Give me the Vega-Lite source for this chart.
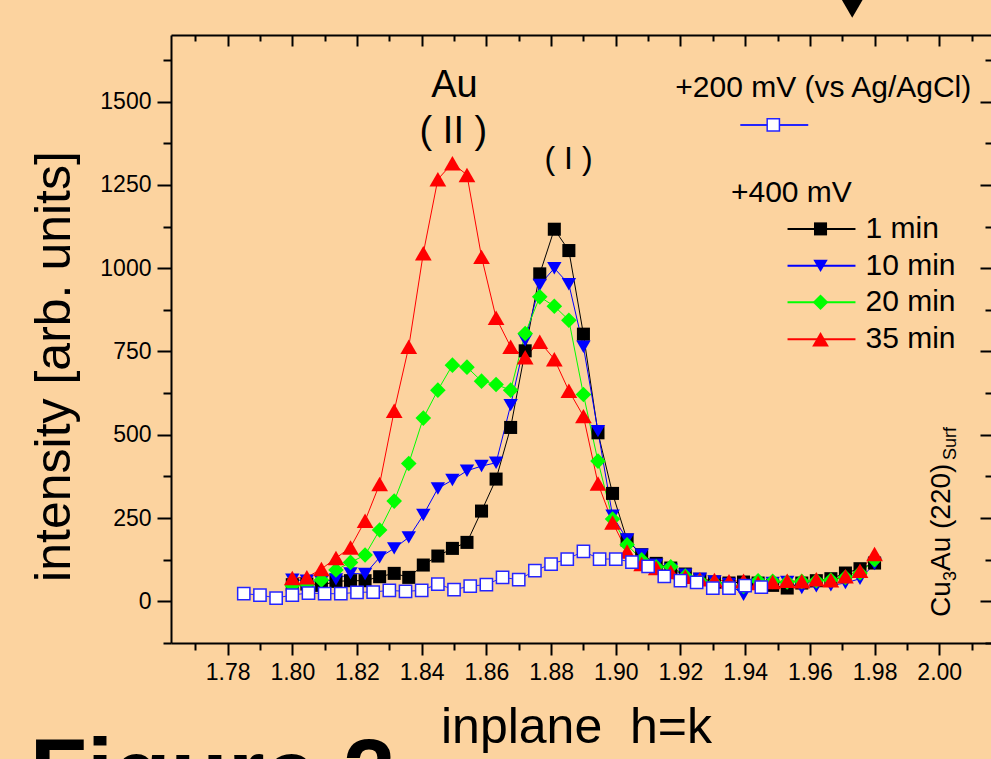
{
  "$schema": "https://vega.github.io/schema/vega-lite/v6.json",
  "width": 820,
  "height": 608,
  "autosize": {"type": "none"},
  "padding": {"left": 171, "top": 35, "right": 0, "bottom": 116},
  "background": "#fcd39f",
  "config": {"view": {"stroke": null}, "font": "Liberation Sans", "text": {"font": "Liberation Sans", "color": "black"}},
  "data": {"values": [{}]},
  "datasets": {
    "scans": [
      {"h":1.8,"intensity":50,"series":"1 min"},{"h":1.8045,"intensity":52,"series":"1 min"},{"h":1.809,"intensity":48,"series":"1 min"},{"h":1.8135,"intensity":60,"series":"1 min"},{"h":1.818,"intensity":62,"series":"1 min"},{"h":1.8225,"intensity":62,"series":"1 min"},{"h":1.827,"intensity":74,"series":"1 min"},{"h":1.8315,"intensity":84,"series":"1 min"},{"h":1.836,"intensity":72,"series":"1 min"},{"h":1.8405,"intensity":109,"series":"1 min"},{"h":1.845,"intensity":136,"series":"1 min"},{"h":1.8495,"intensity":159,"series":"1 min"},{"h":1.854,"intensity":177,"series":"1 min"},{"h":1.8585,"intensity":271,"series":"1 min"},{"h":1.863,"intensity":367,"series":"1 min"},{"h":1.8675,"intensity":522,"series":"1 min"},{"h":1.872,"intensity":752,"series":"1 min"},{"h":1.8765,"intensity":983,"series":"1 min"},{"h":1.881,"intensity":1117,"series":"1 min"},{"h":1.8855,"intensity":1053,"series":"1 min"},{"h":1.89,"intensity":802,"series":"1 min"},{"h":1.8945,"intensity":506,"series":"1 min"},{"h":1.899,"intensity":324,"series":"1 min"},{"h":1.9035,"intensity":184,"series":"1 min"},{"h":1.908,"intensity":140,"series":"1 min"},{"h":1.9125,"intensity":114,"series":"1 min"},{"h":1.917,"intensity":100,"series":"1 min"},{"h":1.9215,"intensity":82,"series":"1 min"},{"h":1.926,"intensity":66,"series":"1 min"},{"h":1.9305,"intensity":58,"series":"1 min"},{"h":1.935,"intensity":55,"series":"1 min"},{"h":1.9395,"intensity":58,"series":"1 min"},{"h":1.944,"intensity":55,"series":"1 min"},{"h":1.9485,"intensity":48,"series":"1 min"},{"h":1.953,"intensity":40,"series":"1 min"},{"h":1.9575,"intensity":55,"series":"1 min"},{"h":1.962,"intensity":62,"series":"1 min"},{"h":1.9665,"intensity":68,"series":"1 min"},{"h":1.971,"intensity":85,"series":"1 min"},{"h":1.9755,"intensity":98,"series":"1 min"},{"h":1.98,"intensity":115,"series":"1 min"},
      {"h":1.8,"intensity":65,"series":"10 min"},{"h":1.8045,"intensity":62,"series":"10 min"},{"h":1.809,"intensity":59,"series":"10 min"},{"h":1.8135,"intensity":66,"series":"10 min"},{"h":1.818,"intensity":84,"series":"10 min"},{"h":1.8225,"intensity":82,"series":"10 min"},{"h":1.827,"intensity":132,"series":"10 min"},{"h":1.8315,"intensity":159,"series":"10 min"},{"h":1.836,"intensity":192,"series":"10 min"},{"h":1.8405,"intensity":259,"series":"10 min"},{"h":1.845,"intensity":339,"series":"10 min"},{"h":1.8495,"intensity":364,"series":"10 min"},{"h":1.854,"intensity":392,"series":"10 min"},{"h":1.8585,"intensity":406,"series":"10 min"},{"h":1.863,"intensity":416,"series":"10 min"},{"h":1.8675,"intensity":589,"series":"10 min"},{"h":1.872,"intensity":784,"series":"10 min"},{"h":1.8765,"intensity":950,"series":"10 min"},{"h":1.881,"intensity":1000,"series":"10 min"},{"h":1.8855,"intensity":952,"series":"10 min"},{"h":1.89,"intensity":764,"series":"10 min"},{"h":1.8945,"intensity":511,"series":"10 min"},{"h":1.899,"intensity":257,"series":"10 min"},{"h":1.9035,"intensity":186,"series":"10 min"},{"h":1.908,"intensity":140,"series":"10 min"},{"h":1.9125,"intensity":110,"series":"10 min"},{"h":1.917,"intensity":95,"series":"10 min"},{"h":1.9215,"intensity":80,"series":"10 min"},{"h":1.926,"intensity":68,"series":"10 min"},{"h":1.9305,"intensity":60,"series":"10 min"},{"h":1.935,"intensity":52,"series":"10 min"},{"h":1.9395,"intensity":20,"series":"10 min"},{"h":1.944,"intensity":50,"series":"10 min"},{"h":1.9485,"intensity":55,"series":"10 min"},{"h":1.953,"intensity":58,"series":"10 min"},{"h":1.9575,"intensity":40,"series":"10 min"},{"h":1.962,"intensity":45,"series":"10 min"},{"h":1.9665,"intensity":48,"series":"10 min"},{"h":1.971,"intensity":55,"series":"10 min"},{"h":1.9755,"intensity":68,"series":"10 min"},{"h":1.98,"intensity":112,"series":"10 min"},
      {"h":1.8,"intensity":47,"series":"20 min"},{"h":1.8045,"intensity":51,"series":"20 min"},{"h":1.809,"intensity":64,"series":"20 min"},{"h":1.8135,"intensity":94,"series":"20 min"},{"h":1.818,"intensity":117,"series":"20 min"},{"h":1.8225,"intensity":139,"series":"20 min"},{"h":1.827,"intensity":214,"series":"20 min"},{"h":1.8315,"intensity":301,"series":"20 min"},{"h":1.836,"intensity":414,"series":"20 min"},{"h":1.8405,"intensity":550,"series":"20 min"},{"h":1.845,"intensity":634,"series":"20 min"},{"h":1.8495,"intensity":709,"series":"20 min"},{"h":1.854,"intensity":703,"series":"20 min"},{"h":1.8585,"intensity":661,"series":"20 min"},{"h":1.863,"intensity":651,"series":"20 min"},{"h":1.8675,"intensity":634,"series":"20 min"},{"h":1.872,"intensity":804,"series":"20 min"},{"h":1.8765,"intensity":914,"series":"20 min"},{"h":1.881,"intensity":886,"series":"20 min"},{"h":1.8855,"intensity":844,"series":"20 min"},{"h":1.89,"intensity":621,"series":"20 min"},{"h":1.8945,"intensity":421,"series":"20 min"},{"h":1.899,"intensity":247,"series":"20 min"},{"h":1.9035,"intensity":170,"series":"20 min"},{"h":1.908,"intensity":125,"series":"20 min"},{"h":1.9125,"intensity":104,"series":"20 min"},{"h":1.917,"intensity":104,"series":"20 min"},{"h":1.9215,"intensity":76,"series":"20 min"},{"h":1.926,"intensity":62,"series":"20 min"},{"h":1.9305,"intensity":55,"series":"20 min"},{"h":1.935,"intensity":50,"series":"20 min"},{"h":1.9395,"intensity":45,"series":"20 min"},{"h":1.944,"intensity":62,"series":"20 min"},{"h":1.9485,"intensity":60,"series":"20 min"},{"h":1.953,"intensity":58,"series":"20 min"},{"h":1.9575,"intensity":60,"series":"20 min"},{"h":1.962,"intensity":62,"series":"20 min"},{"h":1.9665,"intensity":64,"series":"20 min"},{"h":1.971,"intensity":72,"series":"20 min"},{"h":1.9755,"intensity":85,"series":"20 min"},{"h":1.98,"intensity":125,"series":"20 min"},
      {"h":1.8,"intensity":70,"series":"35 min"},{"h":1.8045,"intensity":72,"series":"35 min"},{"h":1.809,"intensity":97,"series":"35 min"},{"h":1.8135,"intensity":130,"series":"35 min"},{"h":1.818,"intensity":162,"series":"35 min"},{"h":1.8225,"intensity":242,"series":"35 min"},{"h":1.827,"intensity":352,"series":"35 min"},{"h":1.8315,"intensity":572,"series":"35 min"},{"h":1.836,"intensity":764,"series":"35 min"},{"h":1.8405,"intensity":1045,"series":"35 min"},{"h":1.845,"intensity":1267,"series":"35 min"},{"h":1.8495,"intensity":1315,"series":"35 min"},{"h":1.854,"intensity":1280,"series":"35 min"},{"h":1.8585,"intensity":1034,"series":"35 min"},{"h":1.863,"intensity":851,"series":"35 min"},{"h":1.8675,"intensity":764,"series":"35 min"},{"h":1.872,"intensity":733,"series":"35 min"},{"h":1.8765,"intensity":779,"series":"35 min"},{"h":1.881,"intensity":727,"series":"35 min"},{"h":1.8855,"intensity":632,"series":"35 min"},{"h":1.89,"intensity":556,"series":"35 min"},{"h":1.8945,"intensity":354,"series":"35 min"},{"h":1.899,"intensity":237,"series":"35 min"},{"h":1.9035,"intensity":150,"series":"35 min"},{"h":1.908,"intensity":112,"series":"35 min"},{"h":1.9125,"intensity":100,"series":"35 min"},{"h":1.917,"intensity":88,"series":"35 min"},{"h":1.9215,"intensity":74,"series":"35 min"},{"h":1.926,"intensity":66,"series":"35 min"},{"h":1.9305,"intensity":64,"series":"35 min"},{"h":1.935,"intensity":60,"series":"35 min"},{"h":1.9395,"intensity":62,"series":"35 min"},{"h":1.944,"intensity":55,"series":"35 min"},{"h":1.9485,"intensity":58,"series":"35 min"},{"h":1.953,"intensity":62,"series":"35 min"},{"h":1.9575,"intensity":60,"series":"35 min"},{"h":1.962,"intensity":66,"series":"35 min"},{"h":1.9665,"intensity":63,"series":"35 min"},{"h":1.971,"intensity":75,"series":"35 min"},{"h":1.9755,"intensity":92,"series":"35 min"},{"h":1.98,"intensity":142,"series":"35 min"}
    ],
    "ref": [
      {"h":1.785,"intensity":23},{"h":1.79,"intensity":19},{"h":1.795,"intensity":10},{"h":1.8,"intensity":19},{"h":1.805,"intensity":25},{"h":1.81,"intensity":23},{"h":1.815,"intensity":23},{"h":1.82,"intensity":27},{"h":1.825,"intensity":28},{"h":1.83,"intensity":33},{"h":1.835,"intensity":30},{"h":1.84,"intensity":33},{"h":1.845,"intensity":52},{"h":1.85,"intensity":35},{"h":1.855,"intensity":46},{"h":1.86,"intensity":50},{"h":1.865,"intensity":72},{"h":1.87,"intensity":65},{"h":1.875,"intensity":92},{"h":1.88,"intensity":112},{"h":1.885,"intensity":127},{"h":1.89,"intensity":150},{"h":1.895,"intensity":127},{"h":1.9,"intensity":127},{"h":1.905,"intensity":118},{"h":1.91,"intensity":105},{"h":1.915,"intensity":75},{"h":1.92,"intensity":62},{"h":1.925,"intensity":57},{"h":1.93,"intensity":40},{"h":1.935,"intensity":40},{"h":1.94,"intensity":47},{"h":1.945,"intensity":43}
    ],
    "legendRows": [
      {"series":"1 min","ly":1118},{"series":"10 min","ly":1007},{"series":"20 min","ly":898},{"series":"35 min","ly":787}
    ]
  },
  "resolve": {"axis": {"x": "independent", "y": "independent"}},
  "layer": [
    {
      "data": {"name": "scans"},
      "mark": {"type": "line", "strokeWidth": 1, "clip": true},
      "encoding": {
        "x": {"field": "h", "type": "quantitative",
          "scale": {"domain": [1.7625, 2.016], "nice": false, "zero": false},
          "axis": {"orient": "bottom", "values": [1.77,1.78,1.79,1.8,1.81,1.82,1.83,1.84,1.85,1.86,1.87,1.88,1.89,1.9,1.91,1.92,1.93,1.94,1.95,1.96,1.97,1.98,1.99,2,2.01],
            "labelExpr": "round(datum.value*100) % 2 == 0 ? format(datum.value, '.2f') : ''",
            "tickSize": {"condition": {"test": "round(datum.value*100) % 2 == 0", "value": 12}, "value": 7},
            "tickWidth": 2, "tickColor": "black", "domainColor": "black", "domainWidth": 2, "grid": false,
            "labelFontSize": 23, "labelColor": "black", "labelPadding": 6, "labelFlush": false, "labelOverlap": false,
            "title": "inplane\u00a0\u00a0h=k", "titleFontSize": 50, "titleFontWeight": "normal", "titleColor": "black", "titlePadding": 18, "titleX": 405}},
        "y": {"field": "intensity", "type": "quantitative",
          "scale": {"domain": [-125, 1700], "nice": false, "zero": false},
          "axis": {"orient": "left", "values": [-125,0,125,250,375,500,625,750,875,1000,1125,1250,1375,1500,1625],
            "labelExpr": "datum.value >= 0 && datum.value % 250 == 0 ? format(datum.value, 'd') : ''",
            "tickSize": {"condition": {"test": "datum.value % 250 == 0", "value": 14}, "value": 8},
            "tickWidth": 2, "tickColor": "black", "domainColor": "black", "domainWidth": 2, "grid": false,
            "labelFontSize": 23, "labelColor": "black", "labelPadding": 6, "labelFlush": false, "labelOverlap": false,
            "title": "intensity [arb. units]", "titleFontSize": 50, "titleFontWeight": "normal", "titleColor": "black", "titlePadding": 20, "titleY": 331}},
        "color": {"field": "series", "type": "nominal",
          "scale": {"domain": ["1 min", "10 min", "20 min", "35 min"], "range": ["#000000", "#0000ff", "#00ff00", "#ff0000"]},
          "legend": null}
      }
    },
    {
      "data": {"name": "ref"},
      "mark": {"type": "line", "strokeWidth": 1, "color": "#2424ff", "clip": true},
      "encoding": {
        "x": {"field": "h", "type": "quantitative", "axis": null},
        "y": {"field": "intensity", "type": "quantitative", "axis": null}
      }
    },
    {
      "data": {"name": "scans"},
      "mark": {"type": "point", "filled": true, "opacity": 1, "clip": true},
      "encoding": {
        "x": {"field": "h", "type": "quantitative",
          "axis": {"orient": "top", "values": [1.77,1.78,1.79,1.8,1.81,1.82,1.83,1.84,1.85,1.86,1.87,1.88,1.89,1.9,1.91,1.92,1.93,1.94,1.95,1.96,1.97,1.98,1.99,2,2.01],
            "labels": false, "title": null,
            "tickSize": {"condition": {"test": "round(datum.value*100) % 2 == 0", "value": -11}, "value": -6},
            "tickWidth": 2, "tickColor": "black", "domainColor": "black", "domainWidth": 2, "grid": false}},
        "y": {"field": "intensity", "type": "quantitative",
          "axis": {"orient": "right", "values": [-125,0,125,250,375,500,625,750,875,1000,1125,1250,1375,1500,1625],
            "labels": false, "title": null, "domain": false,
            "tickSize": {"condition": {"test": "datum.value % 250 == 0", "value": -11}, "value": -6},
            "tickWidth": 2, "tickColor": "black", "grid": false}},
        "color": {"field": "series", "type": "nominal", "legend": null},
        "shape": {"field": "series", "type": "nominal",
          "scale": {"domain": ["1 min", "10 min", "20 min", "35 min"], "range": ["square", "triangle-down", "diamond", "triangle-up"]},
          "legend": null},
        "size": {"field": "series", "type": "ordinal",
          "scale": {"domain": ["1 min", "10 min", "20 min", "35 min"], "range": [170, 280, 250, 280]},
          "legend": null}
      }
    },
    {
      "data": {"name": "ref"},
      "mark": {"type": "point", "shape": "square", "filled": true, "fill": "white", "stroke": "#2424ff", "strokeWidth": 1.5, "size": 150, "opacity": 1, "clip": true},
      "encoding": {
        "x": {"field": "h", "type": "quantitative", "axis": null},
        "y": {"field": "intensity", "type": "quantitative", "axis": null}
      }
    },
    {
      "data": {"name": "legendRows"},
      "mark": {"type": "rule", "strokeWidth": 2},
      "encoding": {
        "x": {"datum": 1.9531, "type": "quantitative", "axis": null},
        "x2": {"datum": 1.9741},
        "y": {"field": "ly", "type": "quantitative", "axis": null},
        "color": {"field": "series", "type": "nominal", "legend": null}
      }
    },
    {
      "data": {"name": "legendRows"},
      "mark": {"type": "point", "filled": true, "opacity": 1},
      "encoding": {
        "x": {"datum": 1.9633, "type": "quantitative", "axis": null},
        "y": {"field": "ly", "type": "quantitative", "axis": null},
        "color": {"field": "series", "type": "nominal", "legend": null},
        "shape": {"field": "series", "type": "nominal", "legend": null},
        "size": {"field": "series", "type": "ordinal", "legend": null}
      }
    },
    {
      "data": {"name": "legendRows"},
      "mark": {"type": "text", "align": "left", "baseline": "middle", "fontSize": 30},
      "encoding": {
        "x": {"datum": 1.9772, "type": "quantitative", "axis": null},
        "y": {"field": "ly", "type": "quantitative", "axis": null},
        "text": {"field": "series"}
      }
    },
    {
      "mark": {"type": "rule", "strokeWidth": 2, "color": "#2424ff"},
      "encoding": {
        "x": {"datum": 1.9385, "type": "quantitative", "axis": null},
        "x2": {"datum": 1.9595},
        "y": {"datum": 1430, "type": "quantitative", "axis": null}
      }
    },
    {
      "mark": {"type": "point", "shape": "square", "filled": true, "fill": "white", "stroke": "#2424ff", "strokeWidth": 1.5, "size": 150, "opacity": 1},
      "encoding": {
        "x": {"datum": 1.9487, "type": "quantitative", "axis": null},
        "y": {"datum": 1430, "type": "quantitative", "axis": null}
      }
    },
    {
      "mark": {"type": "text", "text": "+200 mV (vs Ag/AgCl)", "align": "left", "baseline": "alphabetic", "fontSize": 30},
      "encoding": {
        "x": {"datum": 1.9184, "type": "quantitative", "axis": null},
        "y": {"datum": 1515, "type": "quantitative", "axis": null}
      }
    },
    {
      "mark": {"type": "text", "text": "+400 mV", "align": "left", "baseline": "alphabetic", "fontSize": 30},
      "encoding": {
        "x": {"datum": 1.9356, "type": "quantitative", "axis": null},
        "y": {"datum": 1200, "type": "quantitative", "axis": null}
      }
    },
    {
      "mark": {"type": "text", "text": "Au", "align": "center", "baseline": "alphabetic", "fontSize": 38},
      "encoding": {
        "x": {"datum": 1.8501, "type": "quantitative", "axis": null},
        "y": {"datum": 1514, "type": "quantitative", "axis": null}
      }
    },
    {
      "mark": {"type": "text", "text": "( II )", "align": "center", "baseline": "alphabetic", "fontSize": 38},
      "encoding": {
        "x": {"datum": 1.8498, "type": "quantitative", "axis": null},
        "y": {"datum": 1376, "type": "quantitative", "axis": null}
      }
    },
    {
      "mark": {"type": "text", "text": "( I )", "align": "center", "baseline": "alphabetic", "fontSize": 32},
      "encoding": {
        "x": {"datum": 1.8854, "type": "quantitative", "axis": null},
        "y": {"datum": 1297, "type": "quantitative", "axis": null}
      }
    },
    {
      "mark": {"type": "text", "text": "Cu", "angle": 270, "align": "left", "baseline": "alphabetic", "fontSize": 28},
      "encoding": {
        "x": {"datum": 2.0034, "type": "quantitative", "axis": null},
        "y": {"datum": -47, "type": "quantitative", "axis": null}
      }
    },
    {
      "mark": {"type": "text", "text": "3", "angle": 270, "align": "left", "baseline": "alphabetic", "fontSize": 18},
      "encoding": {
        "x": {"datum": 2.0053, "type": "quantitative", "axis": null},
        "y": {"datum": 61, "type": "quantitative", "axis": null}
      }
    },
    {
      "mark": {"type": "text", "text": "Au (220)", "angle": 270, "align": "left", "baseline": "alphabetic", "fontSize": 28},
      "encoding": {
        "x": {"datum": 2.0034, "type": "quantitative", "axis": null},
        "y": {"datum": 91, "type": "quantitative", "axis": null}
      }
    },
    {
      "mark": {"type": "text", "text": "Surf", "angle": 270, "align": "left", "baseline": "alphabetic", "fontSize": 18},
      "encoding": {
        "x": {"datum": 2.0053, "type": "quantitative", "axis": null},
        "y": {"datum": 424, "type": "quantitative", "axis": null}
      }
    },
    {
      "mark": {"type": "text", "text": "Figure 2", "align": "left", "baseline": "alphabetic", "fontSize": 94, "fontWeight": "bold"},
      "encoding": {
        "x": {"datum": 1.7188, "type": "quantitative", "axis": null},
        "y": {"datum": -611, "type": "quantitative", "axis": null}
      }
    },
    {
      "mark": {"type": "point", "shape": "triangle-down", "filled": true, "color": "black", "size": 484, "opacity": 1},
      "encoding": {
        "x": {"datum": 1.9731, "type": "quantitative", "axis": null},
        "y": {"datum": 1780, "type": "quantitative", "axis": null}
      }
    }
  ]
}
